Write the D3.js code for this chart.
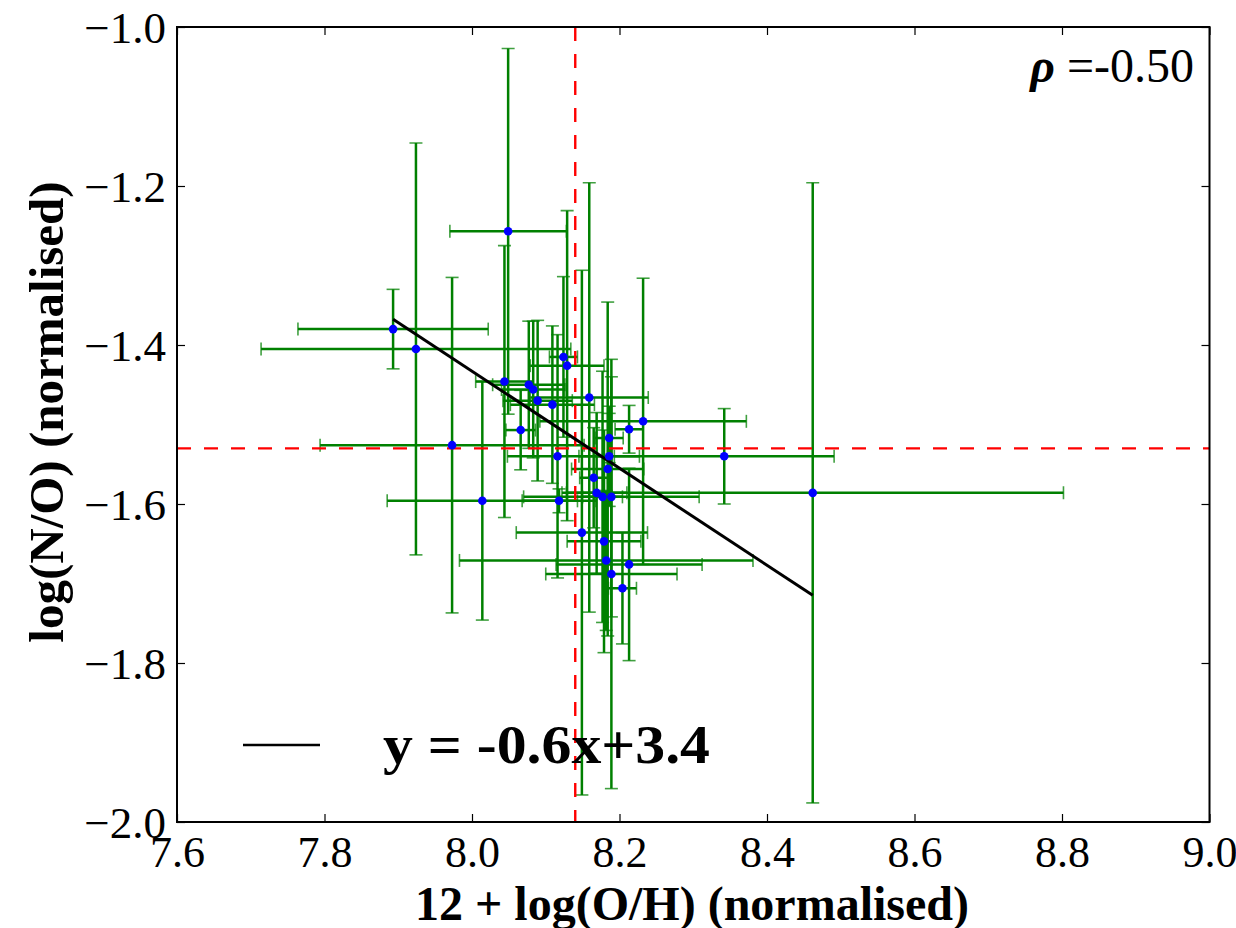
<!DOCTYPE html>
<html>
<head>
<meta charset="utf-8">
<script src="https://cdn.jsdelivr.net/npm/d3@7"></script>
<style>
  html, body { margin: 0; padding: 0; background: #fff; }
  svg { display: block; }
</style>
</head>
<body>
<svg id="chart" width="1236" height="928"></svg>
<script>
// ---- data ----
const xVals = [7.893, 7.924, 7.973, 8.049, 8.044, 8.014, 8.066, 8.077, 8.083, 8.089,
               8.109, 8.116, 8.118, 8.124, 8.129, 8.149, 8.159, 8.165, 8.169, 8.177,
               8.179, 8.182, 8.184, 8.186, 8.186, 8.189, 8.189, 8.204, 8.213, 8.213,
               8.232, 8.342, 8.462];
const yVals = [-1.380, -1.405, -1.526, -1.257, -1.446, -1.596, -1.507, -1.450, -1.456, -1.470,
               -1.475, -1.540, -1.596, -1.415, -1.426, -1.636, -1.466, -1.567, -1.586, -1.591,
               -1.647, -1.671, -1.556, -1.517, -1.540, -1.688, -1.591, -1.706, -1.506, -1.676,
               -1.496, -1.540, -1.586];
const xErr  = [0.129, 0.210, 0.179, 0.079, 0.039, 0.129, 0.020, 0.049, 0.043, 0.047,
               0.057, 0.068, 0.050, 0.019, 0.050, 0.089, 0.080, 0.019, 0.041, 0.027,
               0.050, 0.199, 0.049, 0.019, 0.041, 0.089, 0.119, 0.019, 0.019, 0.099,
               0.140, 0.149, 0.340];
const yErr  = [0.050, 0.259, 0.211, 0.230, 0.171, 0.150, 0.050, 0.080, 0.086, 0.101,
               0.099, 0.153, 0.015, 0.101, 0.195, 0.330, 0.270, 0.063, 0.101, 0.158,
               0.140, 0.088, 0.210, 0.031, 0.063, 0.270, 0.151, 0.070, 0.030, 0.121,
               0.180, 0.060, 0.390];
const fitSlope = -0.61;
const fitIntercept = 3.447;
const medianX = 8.14;
const medianY = -1.53;
const xTicks = [7.6, 7.8, 8.0, 8.2, 8.4, 8.6, 8.8, 9.0];
const yTicks = [-1.0, -1.2, -1.4, -1.6, -1.8, -2.0];
const legendText = "y = -0.6x+3.4";
const rhoValue = "-0.50";
const xLabel = "12 + log(O/H) (normalised)";
const yLabel = "log(N/O) (normalised)";

// ---- layout ----
const svg = d3.select("#chart");
const L = 177, R = 1209.5, T = 27, B = 822;
const x = d3.scaleLinear().domain([7.6, 9.0]).range([L, R]);
const y = d3.scaleLinear().domain([-2.0, -1.0]).range([B, T]);
const serif = "'Liberation Serif', 'DejaVu Serif', serif";
const green = "#008000";

const data = xVals.map((v, i) => ({x: v, y: yVals[i], xe: xErr[i], ye: yErr[i]}));

const clipId = "plotclip";
svg.append("defs").append("clipPath").attr("id", clipId)
  .append("rect").attr("x", L).attr("y", T).attr("width", R - L).attr("height", B - T);

const plot = svg.append("g").attr("clip-path", `url(#${clipId})`);

// error bars
const eb = plot.append("g").attr("stroke", green).attr("fill", "none");
const cap = 6.5;
data.forEach(d => {
  const cx = x(d.x), cy = y(d.y);
  const x0 = x(d.x - d.xe), x1 = x(d.x + d.xe);
  const y0 = y(d.y - d.ye), y1 = y(d.y + d.ye);
  eb.append("line").attr("x1", x0).attr("x2", x1).attr("y1", cy).attr("y2", cy).attr("stroke-width", 2.5);
  eb.append("line").attr("x1", cx).attr("x2", cx).attr("y1", y0).attr("y2", y1).attr("stroke-width", 2.5);
  eb.append("line").attr("x1", x0).attr("x2", x0).attr("y1", cy - cap).attr("y2", cy + cap).attr("stroke-width", 1.6).attr("stroke-opacity", 0.75);
  eb.append("line").attr("x1", x1).attr("x2", x1).attr("y1", cy - cap).attr("y2", cy + cap).attr("stroke-width", 1.6).attr("stroke-opacity", 0.75);
  eb.append("line").attr("x1", cx - cap).attr("x2", cx + cap).attr("y1", y0).attr("y2", y0).attr("stroke-width", 1.6).attr("stroke-opacity", 0.75);
  eb.append("line").attr("x1", cx - cap).attr("x2", cx + cap).attr("y1", y1).attr("y2", y1).attr("stroke-width", 1.6).attr("stroke-opacity", 0.75);
});

// median dashed lines
plot.append("line")
  .attr("x1", x(medianX)).attr("x2", x(medianX)).attr("y1", T).attr("y2", B)
  .attr("stroke", "#ff0000").attr("stroke-width", 2.4).attr("stroke-dasharray", "14,13");
plot.append("line")
  .attr("x1", L).attr("x2", R).attr("y1", y(medianY)).attr("y2", y(medianY))
  .attr("stroke", "#ff0000").attr("stroke-width", 2.4).attr("stroke-dasharray", "14,13");

// fit line
const xmin = d3.min(xVals), xmax = d3.max(xVals);
plot.append("line")
  .attr("x1", x(xmin)).attr("y1", y(fitSlope * xmin + fitIntercept))
  .attr("x2", x(xmax)).attr("y2", y(fitSlope * xmax + fitIntercept))
  .attr("stroke", "#000").attr("stroke-width", 3);

// points
plot.append("g").selectAll("circle").data(data).join("circle")
  .attr("cx", d => x(d.x)).attr("cy", d => y(d.y)).attr("r", 4.3)
  .attr("fill", "#0000ff");

// axes (inward ticks, all four sides)
const tickLen = 8;
const fmt = v => (v < 0 ? "\u2212" : "") + Math.abs(v).toFixed(1);
const axB = svg.append("g").attr("transform", `translate(0,${B})`)
  .call(d3.axisBottom(x).tickValues(xTicks).tickSize(-tickLen).tickFormat(d => d.toFixed(1)));
const axT = svg.append("g").attr("transform", `translate(0,${T})`)
  .call(d3.axisTop(x).tickValues(xTicks).tickSize(-tickLen).tickFormat(""));
const axL = svg.append("g").attr("transform", `translate(${L},0)`)
  .call(d3.axisLeft(y).tickValues(yTicks).tickSize(-tickLen).tickFormat(fmt));
const axRr = svg.append("g").attr("transform", `translate(${R},0)`)
  .call(d3.axisRight(y).tickValues(yTicks).tickSize(-tickLen).tickFormat(""));
[axB, axT, axL, axRr].forEach(a => {
  a.select(".domain").remove();
  a.selectAll(".tick line").attr("stroke", "#000").attr("stroke-width", 1.2);
});
axB.selectAll(".tick text").attr("font-family", serif).attr("font-size", 44)
  .attr("fill", "#000").attr("y", 14).attr("dy", "0.71em");
axL.selectAll(".tick text").attr("font-family", serif).attr("font-size", 45)
  .attr("fill", "#000").attr("x", -11).attr("dy", "0.34em");

// frame
svg.append("rect").attr("x", L).attr("y", T).attr("width", R - L).attr("height", B - T)
  .attr("fill", "none").attr("stroke", "#000").attr("stroke-width", 2);

// axis labels
svg.append("text").attr("x", 692).attr("y", 920).attr("text-anchor", "middle")
  .attr("font-family", serif).attr("font-weight", "bold").attr("font-size", 48)
  .text(xLabel);
svg.append("text").attr("transform", "translate(63,412) rotate(-90)").attr("text-anchor", "middle")
  .attr("font-family", serif).attr("font-weight", "bold").attr("font-size", 49)
  .text(yLabel);

// rho annotation
const rho = svg.append("text").attr("x", 1194).attr("y", 82).attr("text-anchor", "end")
  .attr("font-family", serif).attr("font-size", 48);
rho.append("tspan").attr("font-style", "italic").attr("font-weight", "bold").text("\u03C1");
rho.append("tspan").text(" =" + rhoValue);

// legend
svg.append("line").attr("x1", 243).attr("x2", 320).attr("y1", 745).attr("y2", 745)
  .attr("stroke", "#000").attr("stroke-width", 2.5);
svg.append("text").attr("x", 383).attr("y", 763)
  .attr("font-family", serif).attr("font-weight", "bold").attr("font-size", 55)
  .attr("textLength", 327).attr("lengthAdjust", "spacingAndGlyphs")
  .text(legendText);
</script>
</body>
</html>
